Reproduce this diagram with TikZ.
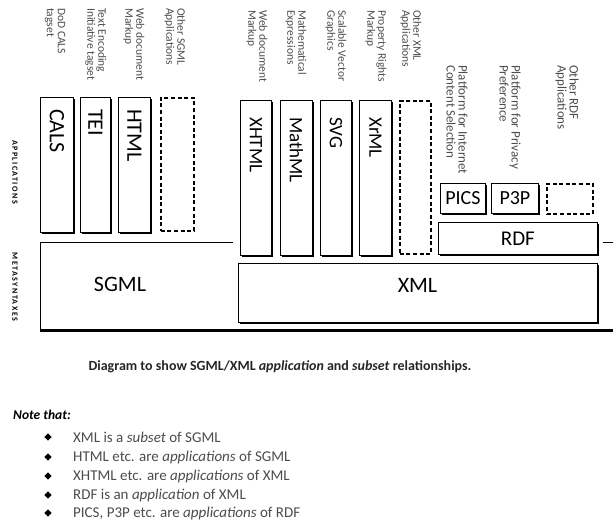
\documentclass[tikz,border=0pt]{standalone}
\usepackage{fontspec}
\setmainfont{Carlito}
\newfontfamily\spacedfont[LetterSpace=18]{Carlito}
\usetikzlibrary{shadows,shapes.geometric}
\begin{document}
\begin{tikzpicture}[x=1pt,y=-1pt,
  box/.style={draw, line width=0.8pt, fill=white,
    general shadow={fill=black, shadow xshift=1.8pt, shadow yshift=-1.8pt},
    anchor=north west, inner sep=0pt},
  dbox/.style={draw, line width=1.7pt, dash pattern=on 4pt off 2.6pt,
    anchor=north west, inner sep=0pt},
  bigt/.style={font=\fontsize{22}{22}\selectfont},
  midt/.style={font=\fontsize{19}{19}\selectfont},
  vlab/.style={rotate=-90, anchor=west, inner sep=0pt},
  notelab/.style={rotate=-90, anchor=west, align=left, inner sep=0pt,
    text=black!70, font=\fontsize{11.5}{11}\selectfont},
  rdflab/.style={notelab, font=\fontsize{13}{12}\selectfont},
  sidelab/.style={rotate=-90, inner sep=0pt,
    font=\spacedfont\bfseries\fontsize{8}{8}\selectfont},
  itemt/.style={anchor=west, inner sep=0pt, text=black!70,
    font=\fontsize{15}{15}\selectfont},
  bul/.style={diamond, fill=black, inner sep=0pt, minimum size=7.5pt},
]
\useasboundingbox (0,0) rectangle (613,529);

% SGML metasyntax area
\node[inner sep=0pt, minimum width=573pt, minimum height=88pt, anchor=north west] (sgml) at (40,242) {};
\draw[line width=0.9pt] ([xshift=193pt]sgml.north west) -- (sgml.north west) -- (sgml.south west);
\draw[line width=2.4pt] (sgml.south west) -- (sgml.south east);
\draw[line width=0.9pt] ([xshift=-10pt]sgml.north east) -- (sgml.north east);
\node[bigt] (sgmlt) at (120,284) {SGML};

% XML box
\node[box, minimum width=359pt, minimum height=59pt] (xml) at (238,263) {};
\node[bigt] (xmlt) at (417.5,285) {XML};

% RDF box
\node[box, minimum width=159pt, minimum height=32pt] (rdf) at (438,222) {};
\node[font=\fontsize{21}{21}\selectfont] (rdft) at (rdf.center) {RDF};

% SGML applications
\node[box, minimum width=33pt, minimum height=135pt] (cals) at (40,97) {};
\node[box, minimum width=30pt, minimum height=135pt] (tei) at (80,97) {};
\node[box, minimum width=32pt, minimum height=135pt] (html) at (118,97) {};
\node[dbox, minimum width=33pt, minimum height=133pt] (sgmlo) at (160,97) {};
\node[vlab, bigt] (calst) at ([yshift=-12pt]cals.north) {CALS};
\node[vlab, bigt] (teit) at ([yshift=-12pt]tei.north) {TEI};
\node[vlab, bigt] (htmlt) at ([yshift=-12pt]html.north) {HTML};

% XML applications
\node[box, minimum width=31pt, minimum height=155pt] (xhtml) at (240,100) {};
\node[box, minimum width=32pt, minimum height=155pt] (mathml) at (280,100) {};
\node[box, minimum width=31pt, minimum height=155pt] (svg) at (320,100) {};
\node[box, minimum width=32pt, minimum height=155pt] (xrml) at (359,100) {};
\node[dbox, minimum width=31pt, minimum height=153pt] (xmlo) at (399,100) {};
\node[vlab, midt] (xhtmlt) at ([yshift=-17pt]xhtml.north) {XHTML};
\node[vlab, midt] (mathmlt) at ([yshift=-17pt]mathml.north) {MathML};
\node[vlab, midt] (svgt) at ([yshift=-17pt]svg.north) {SVG};
\node[vlab, midt] (xrmlt) at ([yshift=-17pt]xrml.north) {XrML};

% RDF applications
\node[box, minimum width=45pt, minimum height=30pt] (pics) at (440,183) {};
\node[box, minimum width=47pt, minimum height=30pt] (p3p) at (491,183) {};
\node[dbox, minimum width=46pt, minimum height=30pt] (rdfo) at (546,183) {};
\node[font=\fontsize{20}{20}\selectfont] (picst) at (pics.center) {PICS};
\node[font=\fontsize{20}{20}\selectfont] (p3pt) at (p3p.center) {P3P};

% descriptive labels
\node[notelab] (lcals) at (55,8) {DoD CALS\\tagset};
\node[notelab] (ltei) at (96,8) {Text Encoding\\Initiative tagset};
\node[notelab] (lhtml) at (134,8) {Web document\\Markup};
\node[notelab] (lsgmlo) at (175,8) {Other SGML\\Applications};
\node[notelab] (lxhtml) at (257,10) {Web document\\Markup};
\node[notelab] (lmathml) at (296,10) {Mathematical\\Expressions};
\node[notelab] (lsvg) at (336,10) {Scalable Vector\\Graphics};
\node[notelab] (lxrml) at (376,10) {Property Rights\\Markup};
\node[notelab] (lxmlo) at (411,10) {Other XML\\Applications};
\node[rdflab] (lpics) at (457,65) {Platform for Internet\\Content Selection};
\node[rdflab] (lp3p) at (510,65) {Platform for Privacy\\Preference};
\node[rdflab] (lrdfo) at (567,65) {Other RDF\\Applications};

% side labels
\node[sidelab] (sapps) at (15,172) {APPLICATIONS};
\node[sidelab] (smeta) at (15,287) {METASYNTAXES};

% caption
\node[font=\bfseries\fontsize{14}{14}\selectfont, text=black!85] (cap) at (280,367)
  {Diagram to show SGML/XML \textit{application} and \textit{subset} relationships.};

% notes
\node[anchor=west, inner sep=0pt, font=\bfseries\itshape\fontsize{13.5}{13.5}\selectfont] (note) at (13,415) {Note that:};
\node[bul] (b1) at (48,437) {};
\node[bul] (b2) at (48,457) {};
\node[bul] (b3) at (48,476) {};
\node[bul] (b4) at (48,495) {};
\node[bul] (b5) at (48,513) {};
\node[itemt] (i1) at (73,437) {XML is a \textit{subset} of SGML};
\node[itemt] (i2) at (73,457) {HTML etc. are \textit{applications} of SGML};
\node[itemt] (i3) at (73,476) {XHTML etc. are \textit{applications} of XML};
\node[itemt] (i4) at (73,495) {RDF is an \textit{application} of XML};
\node[itemt] (i5) at (73,513) {PICS, P3P etc. are \textit{applications} of RDF};
\end{tikzpicture}
\end{document}
